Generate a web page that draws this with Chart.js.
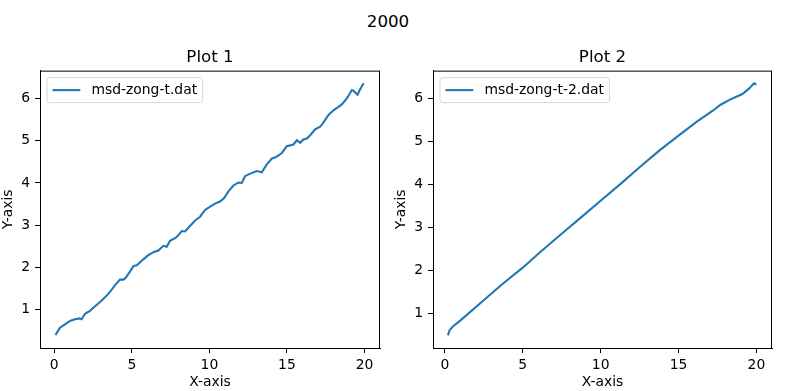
<!DOCTYPE html>
<html>
<head>
<meta charset="utf-8">
<script src="https://cdn.jsdelivr.net/npm/chart.js@4.4.1/dist/chart.umd.min.js"></script>
<style>
    html, body { margin: 0; padding: 0; background: #fff; }
    #page { position: relative; width: 786px; height: 391px; overflow: hidden; }
    canvas { position: absolute; top: 0; }
    #suptitle {
        position: absolute; left: 0; width: 776px; top: 12.6px;
        text-align: center; font: 16.7px/16.7px "DejaVu Sans"; color: #000;
    }
</style>
</head>
<body>
<div id="page">
    <div id="suptitle">2000</div>
    <canvas id="plot1" width="393" height="391" style="left:0"></canvas>
    <canvas id="plot2" width="393" height="391" style="left:393px"></canvas>
</div>
<script>
// msd-zong-t.dat
const time1 = [0.08, 0.37, 0.69, 1.01, 1.34, 1.62, 1.77, 1.98, 2.30, 2.63, 2.95, 3.27, 3.59, 3.92, 4.24, 4.45, 4.60, 4.88,
    5.10, 5.32, 5.53, 5.74, 6.06, 6.39, 6.71, 7.03, 7.25, 7.46, 7.79, 7.95, 8.22, 8.43, 8.75, 9.08, 9.40, 9.72,
    10.05, 10.37, 10.69, 10.95, 11.23, 11.55, 11.87, 12.09, 12.30, 12.63, 13.06, 13.38, 13.70, 14.03, 14.24, 14.45,
    14.67, 14.99, 15.42, 15.64, 15.85, 16.06, 16.28, 16.50, 16.82, 17.14, 17.35, 17.68, 18.00, 18.32, 18.54, 18.86,
    19.19, 19.30, 19.55, 19.72, 19.94];
const msd1 = [0.40, 0.57, 0.65, 0.73, 0.77, 0.79, 0.77, 0.90, 0.97, 1.08, 1.18, 1.29, 1.42, 1.58, 1.71, 1.71, 1.75, 1.90,
    2.03, 2.05, 2.12, 2.19, 2.29, 2.36, 2.40, 2.51, 2.49, 2.63, 2.69, 2.74, 2.86, 2.85, 2.98, 3.11, 3.20, 3.36,
    3.44, 3.51, 3.56, 3.64, 3.80, 3.94, 4.01, 4.00, 4.16, 4.22, 4.28, 4.25, 4.44, 4.58, 4.60, 4.65,
    4.71, 4.87, 4.91, 5.01, 4.95, 5.03, 5.05, 5.13, 5.27, 5.33, 5.43, 5.61, 5.72, 5.80, 5.86, 6.00,
    6.20, 6.18, 6.09, 6.22, 6.36];

// msd-zong-t-2.dat
const time2 = [0.20, 0.30, 0.50, 1.10, 2.40, 3.70, 5.00, 6.20, 7.50, 8.80, 10.00, 11.30, 12.50, 13.80, 15.00,
    16.20, 17.20, 17.70, 18.30, 19.10, 19.50, 19.85, 20.00];
const msd2 = [0.48, 0.60, 0.68, 0.86, 1.27, 1.68, 2.06, 2.45, 2.85, 3.25, 3.62, 4.02, 4.40, 4.80, 5.14,
    5.47, 5.72, 5.86, 5.98, 6.11, 6.23, 6.36, 6.33];

const xTicks = [0, 5, 10, 15, 20];
const yTicks = [1, 2, 3, 4, 5, 6];

const FONT = '"DejaVu Sans"';
const LINE_COLOR = '#1f77b4';

// frame round the plot area (matplotlib style)
const framePlugin = {
    id: 'frame',
    afterDraw(chart) {
        const a = chart.chartArea;
        const ctx = chart.ctx;
        ctx.save();
        ctx.strokeStyle = '#000';
        ctx.lineWidth = 1;
        ctx.strokeRect(a.left + 0.5, a.top + 0.5, a.right - a.left - 1, a.bottom - a.top);
        ctx.restore();
    }
};

// legend box in the upper left corner
const legendBoxPlugin = {
    id: 'legendBox',
    afterDraw(chart) {
        const ds = chart.data.datasets[0];
        const a = chart.chartArea;
        const ctx = chart.ctx;
        const fs = 13.9;
        ctx.save();
        ctx.font = fs + 'px ' + FONT;
        const tw = ctx.measureText(ds.label).width;
        const pad = 0.4 * fs, handle = 2 * fs, gap = 0.8 * fs;
        const x0 = a.left + 0.5 * fs, y0 = a.top + 0.5 * fs;
        const w = pad + handle + gap + tw + pad;
        const h = 2 * pad + fs;
        ctx.beginPath();
        ctx.roundRect(x0, y0, w, h, 2.8);
        ctx.fillStyle = 'rgba(255,255,255,0.8)';
        ctx.fill();
        ctx.strokeStyle = 'rgba(204,204,204,0.8)';
        ctx.lineWidth = 1;
        ctx.stroke();
        const cy = y0 + h / 2;
        ctx.beginPath();
        ctx.moveTo(x0 + pad, cy);
        ctx.lineTo(x0 + pad + handle, cy);
        ctx.strokeStyle = ds.borderColor;
        ctx.lineWidth = ds.borderWidth;
        ctx.stroke();
        ctx.fillStyle = '#000';
        ctx.textBaseline = 'middle';
        ctx.fillText(ds.label, x0 + pad + handle + gap, cy);
        ctx.restore();
    }
};

function makePlot(canvasId, xs, ys, label, title, xRange, yRange, padRight) {
    const tickFont = { family: FONT, size: 13.9 };
    const points = xs.map((x, i) => ({ x: x, y: ys[i] }));
    return new Chart(document.getElementById(canvasId), {
        type: 'line',
        data: {
            datasets: [{
                label: label,
                data: points,
                borderColor: LINE_COLOR,
                borderWidth: 2.08,
                pointRadius: 0,
                tension: 0,
                fill: false
            }]
        },
        options: {
            responsive: false,
            animation: false,
            devicePixelRatio: 1,
            layout: { padding: { left: 0, right: padRight, top: 0, bottom: 0 } },
            plugins: {
                legend: { display: false },
                tooltip: { enabled: false },
                title: {
                    display: true,
                    text: title,
                    fullSize: false,
                    color: '#000',
                    font: { family: FONT, size: 16.7, weight: 'normal' },
                    padding: { top: 47.5, bottom: 3.1 }
                }
            },
            scales: {
                x: {
                    type: 'linear',
                    min: xRange[0],
                    max: xRange[1],
                    afterBuildTicks: s => { s.ticks = xTicks.map(v => ({ value: v })); },
                    afterFit: s => { s.height = 43; },
                    grid: { drawOnChartArea: false, drawTicks: true, tickLength: 5, color: '#000', lineWidth: 1 },
                    border: { display: true, color: '#000', width: 1 },
                    ticks: { color: '#000', font: tickFont, padding: 4, maxRotation: 0, autoSkip: false,
                        callback: v => String(v) },
                    title: { display: true, text: 'X-axis', color: '#000', font: tickFont, padding: { top: 0, bottom: 0 } }
                },
                y: {
                    type: 'linear',
                    min: yRange[0],
                    max: yRange[1],
                    afterBuildTicks: s => { s.ticks = yTicks.map(v => ({ value: v })); },
                    afterFit: s => { s.width = 40; },
                    grid: { drawOnChartArea: false, drawTicks: true, tickLength: 5, color: '#000', lineWidth: 1 },
                    border: { display: true, color: '#000', width: 1 },
                    ticks: { color: '#000', font: tickFont, padding: 5, autoSkip: false,
                        callback: v => String(v) },
                    title: { display: true, text: 'Y-axis', color: '#000', font: tickFont, padding: { top: 0, bottom: 0 } }
                }
            }
        },
        plugins: [framePlugin, legendBoxPlugin]
    });
}

makePlot('plot1', time1, msd1, 'msd-zong-t.dat', 'Plot 1', [-0.92, 21.0], [0.09, 6.66], 13);
makePlot('plot2', time2, msd2, 'msd-zong-t-2.dat', 'Plot 2', [-0.76, 21.0], [0.186, 6.655], 14);
</script>
</body>
</html>
